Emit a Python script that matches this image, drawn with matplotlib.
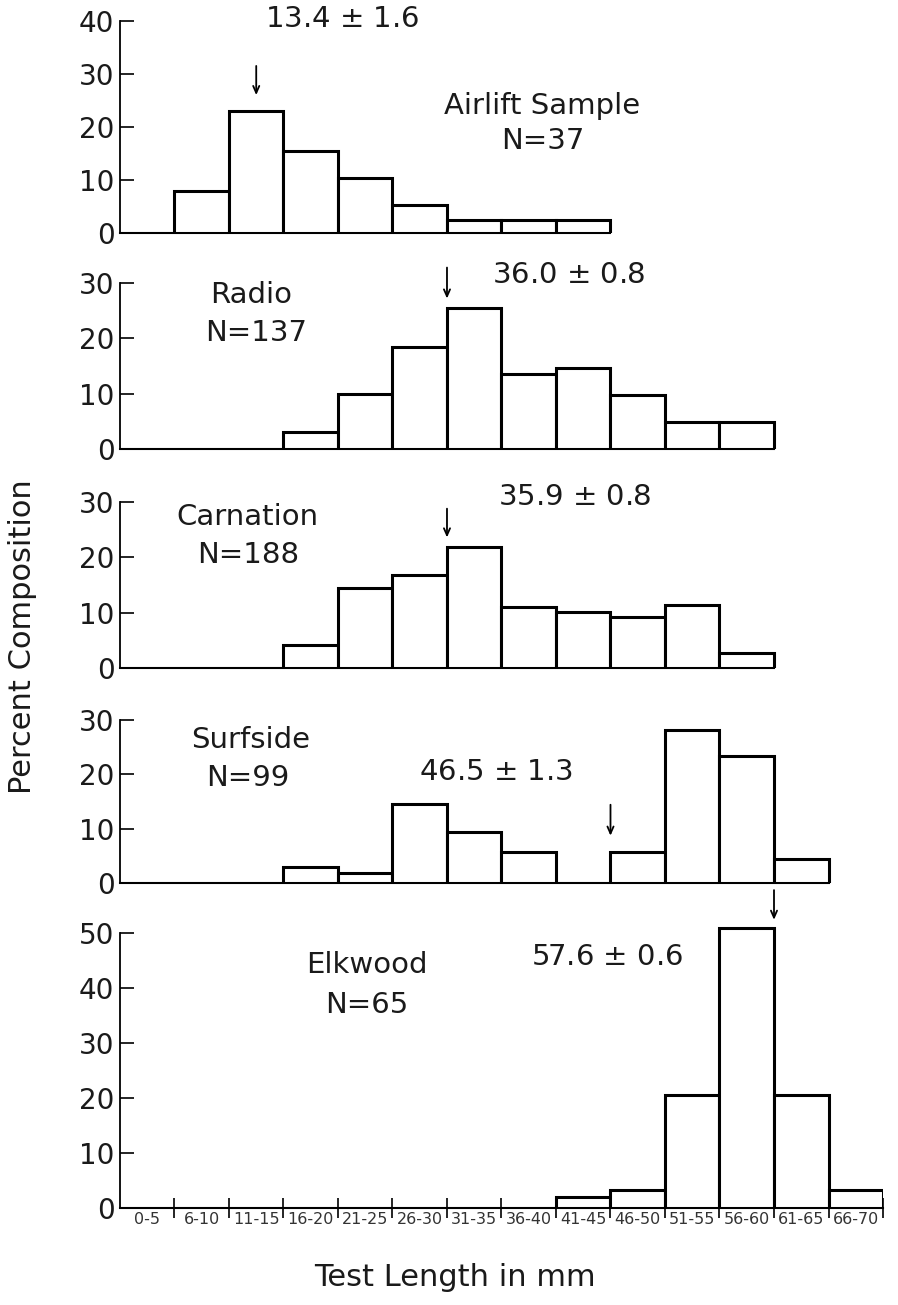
import matplotlib
matplotlib.use('Agg')
import matplotlib.pyplot as plt
import numpy as np

plt.rcParams['font.family'] = ['DejaVu Sans']

bin_labels = ['0-5', '6-10', '11-15', '16-20', '21-25', '26-30', '31-35',
              '36-40', '41-45', '46-50', '51-55', '56-60', '61-65', '66-70']

# percent composition per 5 mm class (None = no bar drawn)
airlift = [None, 8, 23, 15.5, 10.3, 5.2, 2.5, 2.5, 2.5, None, None, None, None, None]
radio = [None, None, None, 3, 10, 18.5, 25.5, 13.6, 14.7, 9.8, 4.8, 4.8, None, None]
carnation = [None, None, None, 4.2, 14.5, 16.9, 21.9, 11.1, 10.2, 9.3, 11.4, 2.8, None, None]
surfside = [None, None, None, 2.9, 1.8, 14.5, 9.4, 5.7, None, 5.7, 28.2, 23.3, 4.5, None]
elkwood = [None, None, None, None, None, None, None, None, 2, 3.3, 20.5, 51, 20.5, 3.3]

names = ['Airlift Sample', 'Radio', 'Carnation', 'Surfside', 'Elkwood']
counts = [37, 137, 188, 99, 65]
means = ['13.4 $\\pm$ 1.6', '36.0 $\\pm$ 0.8', '35.9 $\\pm$ 0.8', '46.5 $\\pm$ 1.3', '57.6 $\\pm$ 0.6']
series = [airlift, radio, carnation, surfside, elkwood]

# layout / annotation placement (bin units, percent)
ymax = [40, 30, 30, 30, 50]
ylim_top = [40, 30, 30, 30, 53]
rects = [[0.1336, 0.8215, 0.8497, 0.1625],
         [0.1336, 0.6559, 0.8497, 0.1272],
         [0.1336, 0.4881, 0.8497, 0.1272],
         [0.1336, 0.3234, 0.8497, 0.1249],
         [0.1336, 0.0743, 0.8497, 0.2234]]
arrows = [(2.5, 31.5, 26), (6, 32.8, 27.2), (6, 28.8, 23.6), (9, 14.4, 8.7), (12, 57.8, 52.4)]
mean_pos = [(4.07, 40.3), (8.24, 31.5), (8.35, 30.9), (6.9, 20.4), (8.94, 45.6)]
name_pos = [(7.74, 24), (2.4, 27.9), (2.33, 27.3), (2.39, 26.3), (4.53, 44.2)]
n_pos = [(7.76, 17.4), (2.5, 20.9), (2.35, 20.4), (2.35, 19.3), (4.53, 36.9)]

fig = plt.figure(figsize=(8.98, 13.05), dpi=100)

for i in range(5):
    ax = fig.add_axes(rects[i])
    vals = series[i]
    idx = [k for k, v in enumerate(vals) if v is not None]
    h = [vals[k] for k in idx]
    ax.bar(idx, h, width=1, align='edge', color='white', edgecolor='black',
           linewidth=2.2, zorder=3)
    ax.set_xlim(0, 14)
    ax.set_ylim(0, ylim_top[i])
    ax.set_yticks(np.arange(0, ymax[i] + 1, 10))
    ax.tick_params(axis='y', direction='in', length=10, width=1.2, pad=4,
                   labelsize=20, labelcolor='#1a1a1a')
    for s in ['top', 'right']:
        ax.spines[s].set_visible(False)
    ax.spines['left'].set_linewidth(1.3)
    ax.spines['bottom'].set_linewidth(1.5)
    ax.spines['left'].set_bounds(0, ymax[i])
    if i < 4:
        ax.spines['bottom'].set_bounds(0, idx[-1] + 1)
        ax.set_xticks([])
    else:
        ax.set_xticks(np.arange(1, 15))
        ax.set_xticklabels([])
        ax.tick_params(axis='x', which='major', direction='inout', length=14, width=1.2)
        ax.set_xticks(np.arange(14) + 0.5, minor=True)
        ax.set_xticklabels(bin_labels, minor=True, fontsize=11.5, color='#333333')
        ax.tick_params(axis='x', which='minor', length=0, pad=3)

    ax.annotate('', xy=(arrows[i][0], arrows[i][2]), xytext=(arrows[i][0], arrows[i][1]),
                arrowprops=dict(arrowstyle='->,head_length=0.5,head_width=0.22',
                                color='black', lw=1.3, shrinkA=0, shrinkB=0),
                annotation_clip=False)
    ax.text(mean_pos[i][0], mean_pos[i][1], means[i], fontsize=21, color='#1a1a1a',
            ha='center', va='center', clip_on=False)
    ax.text(name_pos[i][0], name_pos[i][1], names[i], fontsize=21, color='#1a1a1a',
            ha='center', va='center', clip_on=False)
    ax.text(n_pos[i][0], n_pos[i][1], f'N={counts[i]}', fontsize=21, color='#1a1a1a',
            ha='center', va='center', clip_on=False)

fig.text(0.0245, 0.512, 'Percent Composition', rotation=90, fontsize=22,
         color='#1a1a1a', ha='center', va='center')
fig.text(0.507, 0.021, 'Test Length in mm', fontsize=22, color='#1a1a1a',
         ha='center', va='center')

plt.savefig('out.png', dpi=100)
